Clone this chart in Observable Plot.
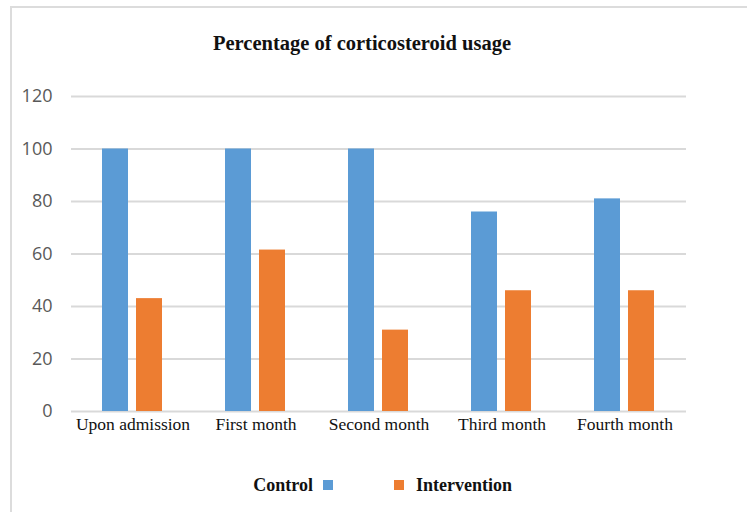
<!DOCTYPE html>
<html><head><meta charset="utf-8">
<script src="https://cdn.jsdelivr.net/npm/d3@7"></script>
<script src="https://cdn.jsdelivr.net/npm/@observablehq/plot@0.6"></script>
<style>
body{margin:0;background:#fff;}
#wrap{position:relative;width:747px;height:512px;overflow:hidden;background:#fff;}
#frame{position:absolute;left:10px;top:6px;width:800px;height:600px;border-top:2px solid #dcdcdc;border-left:2px solid #dcdcdc;}
#title{position:absolute;left:0;width:724px;top:33px;text-align:center;font:bold 20.5px "Liberation Serif","Times New Roman",serif;line-height:20px;color:#111;}
#chart{position:absolute;left:0;top:0;}
.lg{position:absolute;font:bold 18px "Liberation Serif","Times New Roman",serif;color:#111;line-height:20px;}
.sw{position:absolute;width:10px;height:10px;}
</style></head>
<body>
<div id="wrap">
  <div id="frame"></div>
  <div id="chart"></div>
  <div id="title">Percentage of corticosteroid usage</div>
  <div id="legend"></div>
</div>
<script>
const categories = ["Upon admission", "First month", "Second month", "Third month", "Fourth month"];
const seriesNames = ["Control", "Intervention"];
const control = [100, 100, 100, 76, 81];
const intervention = [43, 61.5, 31, 46, 46];
const yTicks = [0, 20, 40, 60, 80, 100, 120];
const colors = ["#5B9BD5", "#ED7D31"];

const data = [];
categories.forEach((c, i) => {
  data.push({cat: c, series: seriesNames[0], value: control[i]});
  data.push({cat: c, series: seriesNames[1], value: intervention[i]});
});

const chart = Plot.plot({
  width: 747,
  height: 445,
  marginLeft: 70,
  marginRight: 61,
  marginTop: 96,
  marginBottom: 34,
  style: {background: "transparent", overflow: "visible"},
  fx: {domain: categories, padding: 0},
  x: {domain: seriesNames, paddingInner: 0.23, paddingOuter: 0.875, axis: null},
  y: {domain: [0, 120], axis: null},
  color: {domain: seriesNames, range: colors},
  marks: [
    Plot.gridY(yTicks, {stroke: "#d9d9d9", strokeOpacity: 1, strokeWidth: 2}),
    Plot.barY(data, {fx: "cat", x: "series", y: "value", fill: "series"}),
    Plot.axisY(yTicks, {tickSize: 0, tickPadding: 19, fontSize: 18, fontFamily: "Open Sans, sans-serif", fill: "#595959", label: null}),
    Plot.axisFx({anchor: "bottom", tickSize: 0, tickPadding: 6.5, fontSize: 17.5, fontFamily: "Liberation Serif, Times New Roman, serif", fill: "#111", label: null})
  ]
});
document.getElementById("chart").appendChild(chart);

const legend = document.getElementById("legend");
const items = [
  {text: seriesNames[0], color: colors[0], textRight: 313, sw: 323},
  {text: seriesNames[1], color: colors[1], textLeft: 416, sw: 394}
];
items.forEach(it => {
  const t = document.createElement("div");
  t.className = "lg";
  t.textContent = it.text;
  t.style.top = "475px";
  if (it.textRight != null) { t.style.right = (747 - it.textRight) + "px"; }
  else { t.style.left = it.textLeft + "px"; }
  legend.appendChild(t);
  const s = document.createElement("div");
  s.className = "sw";
  s.style.left = it.sw + "px";
  s.style.top = "480px";
  s.style.background = it.color;
  legend.appendChild(s);
});
</script>
</body></html>
